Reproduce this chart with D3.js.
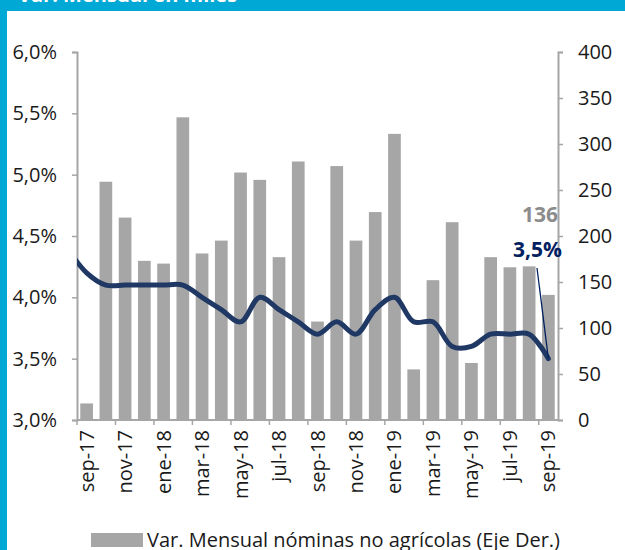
<!DOCTYPE html>
<meta charset="utf-8">
<script src="https://d3js.org/d3.v7.min.js"></script>
<style>
  body { margin: 0; background: #fff; }
  text { font-family: "Open Sans", "Noto Sans", sans-serif; }
</style>
<body>
<div id="chart"></div>
<script>
// months shown as bars (sep-17 .. sep-19)
var months = ["sep-17","oct-17","nov-17","dic-17","ene-18","feb-18","mar-18","abr-18","may-18","jun-18","jul-18","ago-18",
              "sep-18","oct-18","nov-18","dic-18","ene-19","feb-19","mar-19","abr-19","may-19","jun-19","jul-19","ago-19","sep-19"]
// nominas no agricolas, var. mensual en miles (right axis)
var nominas = [18,259,220,173,170,329,181,195,269,261,177,281,
               107,276,195,226,311,55,152,215,62,177,166,167,136]
// tasa (left axis); first value is ago-17, drawn just left of the plot
var tasaPrev = 4.4
var tasa = [4.2,4.1,4.1,4.1,4.1,4.1,4.0,3.9,3.8,4.0,3.9,3.8,
            3.7,3.8,3.7,3.9,4.0,3.8,3.8,3.6,3.6,3.7,3.7,3.7,3.5]
var leftTicks = [3.0,3.5,4.0,4.5,5.0,5.5,6.0]
var rightTicks = [0,50,100,150,200,250,300,350,400]

var width = 625, height = 550
var pLeft = 77, pRight = 558, pTop = 52, pBottom = 420

var svg = d3.select("#chart").append("svg")
    .attr("width", width)
    .attr("height", height)

// header band + left border
svg.append("rect").attr("x", 0).attr("y", 0).attr("width", width).attr("height", 11).attr("fill", "#00a8d6")
svg.append("rect").attr("x", 0).attr("y", 0).attr("width", 7).attr("height", height).attr("fill", "#00a8d6")
svg.append("text")
    .attr("x", 18).attr("y", 2)
    .style("font-size", "20px").style("font-weight", "bold")
    .attr("fill", "#fff")
    .text("Var. Mensual en miles")

var x = d3.scaleBand().domain(months).range([pLeft, pRight]).paddingInner(0.34).paddingOuter(0.17)
var yL = d3.scaleLinear().domain([3, 6]).range([pBottom, pTop])
var yR = d3.scaleLinear().domain([0, 400]).range([pBottom, pTop])

var axisColor = "#a6a6a6"
var fs = "20px"

// bars
svg.selectAll(".bar")
    .data(months)
    .enter()
    .append("rect")
    .attr("x", function(d) { return x(d) })
    .attr("width", x.bandwidth())
    .attr("y", function(d, i) { return yR(nominas[i]) })
    .attr("height", function(d, i) { return pBottom - yR(nominas[i]) })
    .attr("fill", "#a6a6a6")

// left axis
var gL = svg.append("g")
    .attr("transform", "translate(" + pLeft + ",0)")
    .call(d3.axisLeft(yL).tickValues(leftTicks).tickSize(5).tickPadding(15)
        .tickFormat(function(d) { return d.toFixed(1).replace(".", ",") + "%" }))
// right axis
var gR = svg.append("g")
    .attr("transform", "translate(" + pRight + ",0)")
    .call(d3.axisRight(yR).tickValues(rightTicks).tickSize(5).tickPadding(15))
;[gL, gR].forEach(function(g) {
    g.select(".domain").attr("stroke", axisColor).attr("stroke-width", 2)
    g.selectAll(".tick line").attr("stroke", axisColor).attr("stroke-width", 1.5)
    g.selectAll(".tick text").style("font-size", fs).attr("fill", "#1a1a1a")
})

// bottom axis line
svg.append("line")
    .attr("x1", pLeft).attr("x2", pRight).attr("y1", pBottom).attr("y2", pBottom)
    .attr("stroke", axisColor).attr("stroke-width", 2)

var every2 = months.filter(function(d, i) { return i % 2 === 0 })
var half = x.step() * x.paddingInner() / 2
svg.selectAll(".xtick")
    .data(every2)
    .enter()
    .append("line")
    .attr("x1", function(d) { return x(d) - half })
    .attr("x2", function(d) { return x(d) - half })
    .attr("y1", pBottom).attr("y2", pBottom + 5)
    .attr("stroke", axisColor).attr("stroke-width", 1.5)

svg.selectAll(".xlab")
    .data(every2)
    .enter()
    .append("text")
    .attr("transform", function(d) {
        return "translate(" + (x(d) + x.bandwidth() / 2 + 7) + "," + (pBottom + 10) + ") rotate(-90)"
    })
    .attr("text-anchor", "end")
    .style("font-size", fs)
    .attr("fill", "#1a1a1a")
    .text(function(d) { return d })

// line (smoothed), clipped to plot area
svg.append("clipPath").attr("id", "clip")
    .append("rect").attr("x", pLeft).attr("y", 0).attr("width", pRight - pLeft + 10).attr("height", height)

var pts = [[x(months[0]) + x.bandwidth() / 2 - x.step(), yL(tasaPrev)]]
months.forEach(function(m, i) { pts.push([x(m) + x.bandwidth() / 2, yL(tasa[i])]) })

var line = d3.line().curve(d3.curveCatmullRom.alpha(0.5))
svg.append("path")
    .attr("clip-path", "url(#clip)")
    .attr("d", line(pts))
    .attr("fill", "none")
    .attr("stroke", "#1f3864")
    .attr("stroke-width", 5)
    .attr("stroke-linecap", "round")

// annotations
var last = pts[pts.length - 1]
svg.append("line")
    .attr("x1", 537).attr("y1", 268)
    .attr("x2", last[0]).attr("y2", last[1])
    .attr("stroke", "#002060").attr("stroke-width", 1.3)
svg.append("text")
    .attr("x", 558).attr("y", 222)
    .attr("text-anchor", "end")
    .style("font-size", "21px").style("font-weight", "bold")
    .attr("fill", "#8c8c8c")
    .text(nominas[nominas.length - 1])
svg.append("text")
    .attr("x", 562).attr("y", 257)
    .attr("text-anchor", "end")
    .style("font-size", "21px").style("font-weight", "bold")
    .attr("fill", "#002060")
    .text(tasa[tasa.length - 1].toFixed(1).replace(".", ",") + "%")

// legend
svg.append("rect").attr("x", 91).attr("y", 533).attr("width", 52).attr("height", 14).attr("fill", "#a6a6a6")
svg.append("text")
    .attr("x", 147).attr("y", 547)
    .style("font-size", fs)
    .attr("fill", "#1a1a1a")
    .text("Var. Mensual nóminas no agrícolas (Eje Der.)")
</script>
</body>
